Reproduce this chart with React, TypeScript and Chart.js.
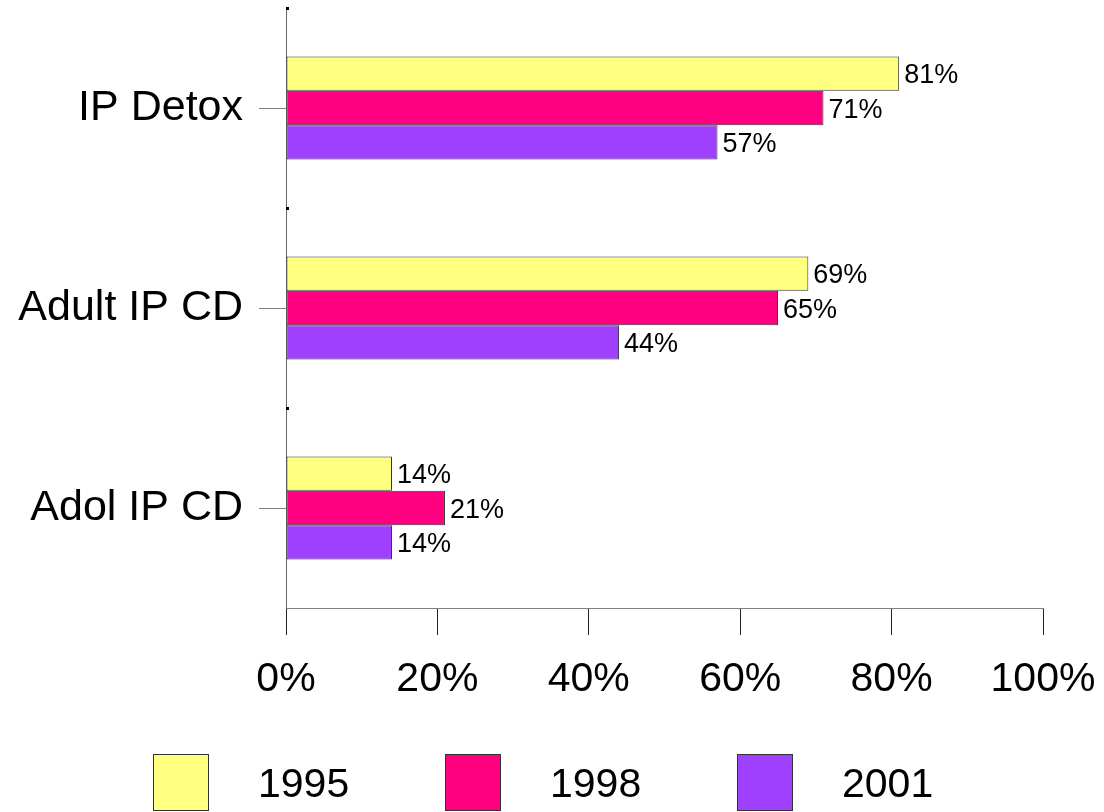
import React, { useEffect, useRef } from 'react';
import { Chart, registerables } from 'chart.js';

Chart.register(...registerables);

// ---- data ----
const categories = ['IP Detox', 'Adult IP CD', 'Adol IP CD'];
const seriesNames = ['1995', '1998', '2001'];
const values1995 = [81, 69, 14];
const values1998 = [71, 65, 21];
const values2001 = [57, 44, 14];
const xTickValues = [0, 20, 40, 60, 80, 100];

const FONT = "'Liberation Sans', Arial, Helvetica, sans-serif";
const seriesColors = ['#FFFF80', '#FF0080', '#A040FF'];

const boundaryMarks = {
  id: 'boundaryMarks',
  afterDraw(chart: any) {
    const { ctx } = chart;
    const y = chart.scales.y;
    const n = chart.data.labels.length;
    const half = (y.getPixelForValue(1) - y.getPixelForValue(0)) / 2;
    ctx.save();
    ctx.fillStyle = '#000';
    for (let i = 0; i < n; i++) {
      const py = y.getPixelForValue(i) - half;
      ctx.fillRect(chart.chartArea.left, Math.round(py) - 1, 3, 3);
    }
    ctx.restore();
  },
};

const dataLabels = {
  id: 'dataLabels',
  afterDatasetsDraw(chart: any) {
    const { ctx } = chart;
    const size = 27;
    ctx.save();
    ctx.font = `${size}px ${FONT}`;
    ctx.fillStyle = '#000';
    ctx.textAlign = 'left';
    ctx.textBaseline = 'alphabetic';
    chart.data.datasets.forEach((ds: any, di: number) => {
      const meta = chart.getDatasetMeta(di);
      meta.data.forEach((el: any, i: number) => {
        const txt = `${ds.data[i]}%`;
        ctx.fillText(txt, el.x + 5, el.y + size * 0.358);
      });
    });
    ctx.restore();
  },
};

const customLegend = {
  id: 'customLegend',
  afterDraw(chart: any) {
    const { ctx } = chart;
    const startX = 153;
    const step = 292;
    const boxW = 56;
    const boxH = 57;
    const boxTop = 754;
    const textGap = 49;
    const size = 41;
    ctx.save();
    ctx.font = `${size}px ${FONT}`;
    ctx.textBaseline = 'alphabetic';
    ctx.textAlign = 'left';
    chart.data.datasets.forEach((ds: any, i: number) => {
      const x = startX + i * step;
      ctx.fillStyle = ds.backgroundColor;
      ctx.fillRect(x, boxTop, boxW, boxH);
      ctx.strokeStyle = '#333';
      ctx.lineWidth = 1;
      ctx.strokeRect(x + 0.5, boxTop + 0.5, boxW - 1, boxH - 1);
      ctx.fillStyle = '#000';
      ctx.fillText(ds.label, x + boxW + textGap, boxTop + boxH / 2 + size * 0.358);
    });
    ctx.restore();
  },
};

export default function App() {
  const ref = useRef<HTMLCanvasElement>(null);

  useEffect(() => {
    if (!ref.current) return;
    const seriesValues = [values1995, values1998, values2001];
    const chart = new Chart(ref.current, {
      type: 'bar',
      data: {
        labels: categories,
        datasets: seriesNames.map((name, i) => ({
          label: name,
          data: seriesValues[i],
          backgroundColor: seriesColors[i],
          borderColor: '#333',
          borderWidth: 1,
          borderSkipped: false,
          categoryPercentage: 0.515,
          barPercentage: 1.0,
        })),
      },
      options: {
        indexAxis: 'y',
        responsive: false,
        animation: false,
        layout: { padding: { top: 8, right: 61, left: 0, bottom: 0 } },
        plugins: {
          legend: { display: false },
          tooltip: { enabled: false },
        },
        scales: {
          x: {
            type: 'linear',
            min: 0,
            max: 100,
            afterBuildTicks: (scale: any) => {
              scale.ticks = xTickValues.map((v) => ({ value: v }));
            },
            afterFit: (scale: any) => {
              scale.height = 204;
              scale.paddingLeft = 0;
              scale.paddingRight = 0;
            },
            grid: {
              drawOnChartArea: false,
              drawTicks: true,
              tickLength: 27,
              color: '#222',
            },
            border: { display: true, color: '#808080', width: 1 },
            ticks: {
              callback: (v: any) => `${v}%`,
              font: { family: FONT, size: 41 },
              color: '#000',
              padding: 20,
              maxRotation: 0,
              autoSkip: false,
            },
          },
          y: {
            type: 'category',
            afterFit: (scale: any) => {
              scale.width = 286;
              scale.paddingTop = 0;
              scale.paddingBottom = 0;
            },
            grid: {
              drawOnChartArea: false,
              drawTicks: true,
              tickLength: 27,
              offset: false,
              color: '#808080',
            },
            border: { display: true, color: '#666', width: 1 },
            ticks: {
              font: { family: FONT, size: 43 },
              color: '#000',
              padding: 16,
            },
          },
        },
      },
      plugins: [boundaryMarks, dataLabels, customLegend],
    } as any);
    return () => chart.destroy();
  }, []);

  return (
    <div style={{ position: 'absolute', left: 0, top: 0, width: 1104, height: 812, background: '#fff' }}>
      <canvas ref={ref} width={1104} height={812} style={{ display: 'block' }} />
    </div>
  );
}
